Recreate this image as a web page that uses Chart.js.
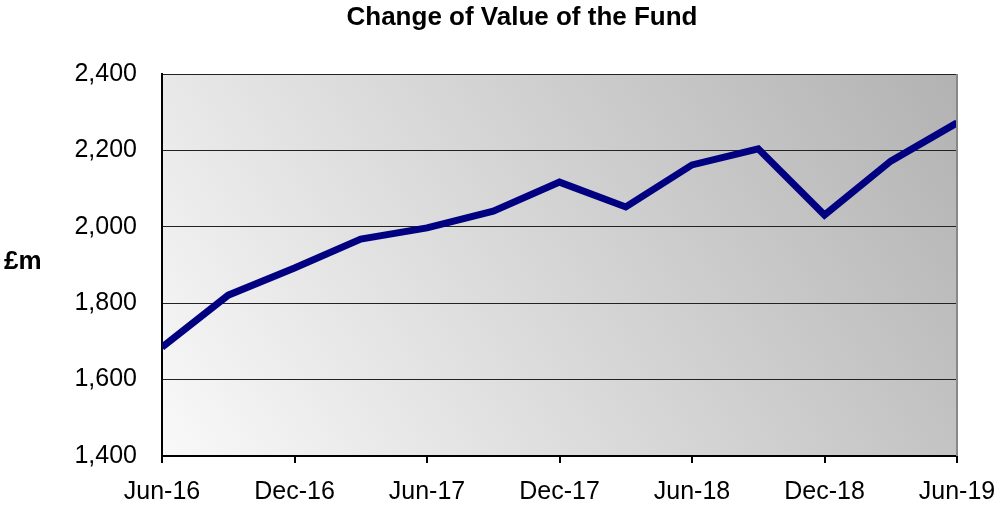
<!DOCTYPE html>
<html>
<head>
<meta charset="utf-8">
<script src="https://cdn.jsdelivr.net/npm/chart.js@4"></script>
<style>
    body { margin: 0; background: #ffffff; }
    #fundChart { display: block; }
</style>
</head>
<body>
<canvas id="fundChart" width="997" height="506"></canvas>
<script>
const quarters = ["Jun-16", "Sep-16", "Dec-16", "Mar-17", "Jun-17", "Sep-17", "Dec-17",
                  "Mar-18", "Jun-18", "Sep-18", "Dec-18", "Mar-19", "Jun-19"];
const fundValue = [1685, 1821, 1892, 1968, 1997, 2041, 2117, 2052, 2162, 2204, 2031, 2172, 2272];
const chartTitle = "Change of Value of the Fund";
const unitLabel = "£m";

const FONT = "'Liberation Sans', Arial, sans-serif";

// gradient fill behind the plot + title + unit label
const decorPlugin = {
    id: "decor",
    beforeDraw(chart) {
        const { ctx, chartArea: a } = chart;
        const w = a.right - a.left, h = a.bottom - a.top;
        // lighter bottom-left, darker top-right, mostly horizontal
        const g = ctx.createLinearGradient(a.left, a.bottom, a.left + w * 0.913, a.bottom - h * 1.27);
        g.addColorStop(0, "#f9f9f9");
        g.addColorStop(1, "#b2b2b2");
        ctx.save();
        ctx.fillStyle = g;
        ctx.fillRect(a.left, a.top, w, h);
        ctx.restore();
    },
    afterDraw(chart) {
        const { ctx, chartArea: a } = chart;
        ctx.save();
        ctx.strokeStyle = "#888888";
        ctx.lineWidth = 2;
        ctx.beginPath();
        ctx.moveTo(a.right, a.top);
        ctx.lineTo(a.right, a.bottom);
        ctx.stroke();

        ctx.fillStyle = "#000000";
        ctx.textBaseline = "middle";
        ctx.font = "bold 26px " + FONT;
        ctx.textAlign = "center";
        ctx.fillText(chartTitle, 522, 18);
        ctx.textAlign = "left";
        ctx.fillText(unitLabel, 4, 262);
        ctx.restore();
    }
};

const ctx = document.getElementById("fundChart").getContext("2d");

new Chart(ctx, {
    type: "line",
    data: {
        labels: quarters,
        datasets: [{
            data: fundValue,
            borderColor: "#000080",
            borderWidth: 7,
            pointRadius: 0,
            tension: 0,
            fill: false,
            clip: 0
        }]
    },
    options: {
        responsive: false,
        animation: false,
        layout: {
            padding: { top: 74, right: 40, left: 0, bottom: 0 }
        },
        plugins: {
            legend: { display: false },
            tooltip: { enabled: false }
        },
        scales: {
            x: {
                offset: false,
                afterFit(scale) {
                    scale.height = 50;
                    scale.paddingLeft = 0;
                    scale.paddingRight = 0;
                },
                border: { color: "#000000", width: 2 },
                grid: {
                    drawOnChartArea: false,
                    drawTicks: true,
                    tickLength: 7,
                    color: "#000000",
                    lineWidth: 2
                },
                ticks: {
                    autoSkip: false,
                    maxRotation: 0,
                    padding: 14,
                    color: "#000000",
                    font: { family: FONT, size: 25 },
                    callback(value, index) {
                        return index % 2 === 0 ? quarters[index] : null;
                    }
                }
            },
            y: {
                min: 1400,
                max: 2400,
                afterFit(scale) { scale.width = 162; },
                border: { color: "#000000", width: 2 },
                grid: {
                    drawTicks: false,
                    color: "#222222",
                    lineWidth: 1
                },
                ticks: {
                    stepSize: 200,
                    padding: 25,
                    color: "#000000",
                    font: { family: FONT, size: 25 },
                    callback(value) {
                        return value.toLocaleString("en-GB");
                    }
                }
            }
        }
    },
    plugins: [decorPlugin]
});
</script>
</body>
</html>
